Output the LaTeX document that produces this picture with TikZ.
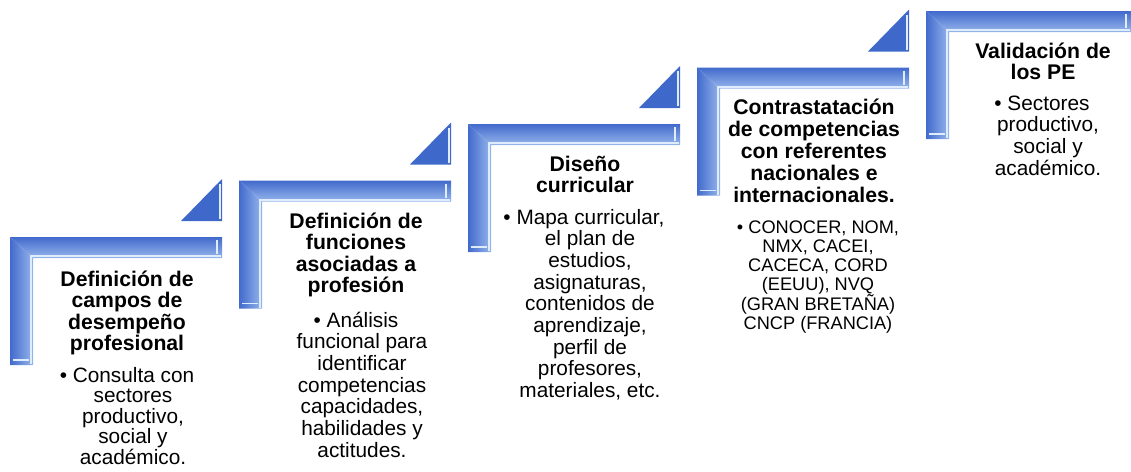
\documentclass[tikz,border=0pt]{standalone}
\usepackage{fontspec}
\setmainfont{Liberation Sans}
\usetikzlibrary{positioning}

\definecolor{barblue}{RGB}{66,106,204}
\definecolor{barpale}{RGB}{150,182,236}
\definecolor{barhi}{RGB}{222,236,252}
\definecolor{triblue}{RGB}{62,104,202}

\newcommand{\topstrut}{\rule{0pt}{20pt}}
\newcommand{\hang}{\hspace*{-12pt}}
% L-shaped frame: left x, top y, right end x
\newcommand{\stepbar}[3]{%
  \shade[top color=barblue, bottom color=barpale] (#1,#2) -- (#3,#2) -- (#3,{#2+21}) -- ({#1+23},{#2+21}) -- cycle;
  \shade[left color=barblue, right color=barpale] (#1,#2) -- ({#1+23},{#2+21}) -- ({#1+23},{#2+128}) -- (#1,{#2+128}) -- cycle;
  \draw[barhi, line width=2pt] ({#3-1},{#2+19}) -- ({#1+21},{#2+19}) -- ({#1+21},{#2+127});
  \draw[barhi, line width=1.2pt] ({#3-5},{#2+3}) -- ({#3-5},{#2+17});
  \draw[barhi, line width=1.2pt] ({#1+3},{#2+123}) -- ({#1+19},{#2+123});
}
% corner triangle: right x, top y of the frame below it
\newcommand{\steparrow}[2]{%
  \fill[triblue] ({#1-41},{#2-16}) -- (#1,{#2-16}) -- (#1,{#2-58}) -- cycle;
  \draw[barhi, line width=2pt] ({#1-2},{#2-18}) -- ({#1-2},{#2-53});
}

\begin{document}
\begin{tikzpicture}[x=1pt, y=-1pt,
  steptitle/.style={font=\fontsize{21.2}{21.6}\selectfont\bfseries, align=center, anchor=north, inner sep=0pt, outer sep=0pt},
  stepbody/.style={font=\fontsize{20.8}{21.7}\selectfont, align=center, anchor=north, inner sep=0pt, outer sep=0pt}]
\useasboundingbox (0,0) rectangle (1131,471);

% frames
\stepbar{10}{237}{222}
\stepbar{239}{180.5}{451}
\stepbar{468}{124}{680}
\stepbar{697}{67.5}{909}
\stepbar{926}{11}{1131}

% triangles
\steparrow{222}{237}
\steparrow{451}{180.5}
\steparrow{680}{124}
\steparrow{909}{67.5}

% step 1
\node[steptitle] (t1) at (127,266) {\topstrut Definición de\\campos de\\desempeño\\profesional};
\node[stepbody, font=\fontsize{20.8}{20.5}\selectfont] (b1) at (133,362)
  {\hang\topstrut\textbullet\ Consulta con\\sectores\\productivo,\\social y\\académico.};

% step 2
\node[steptitle] (t2) at (356,208) {\topstrut Definición de\\funciones\\asociadas a\\profesión};
\node[stepbody] (b2) at (362,307)
  {\hang\topstrut\textbullet\ Análisis\\funcional para\\identificar\\competencias\\capacidades,\\habilidades y\\actitudes.};

% step 3
\node[steptitle] (t3) at (585,151) {\topstrut Diseño\\curricular};
\node[stepbody] (b3) at (590,204)
  {\hang\topstrut\textbullet\ Mapa curricular,\\el plan de\\estudios,\\asignaturas,\\contenidos de\\aprendizaje,\\perfil de\\profesores,\\materiales, etc.};

% step 4
\node[steptitle, font=\fontsize{21.2}{22}\selectfont\bfseries] (t4) at (814,94)
  {\topstrut Contrastatación\\de competencias\\con referentes\\nacionales e\\internacionales.};
\node[stepbody, font=\fontsize{18.2}{19}\selectfont] (b4) at (818,213)
  {\topstrut\textbullet\ CONOCER, NOM,\\NMX, CACEI,\\CACECA, CORD\\(EEUU), NVQ\\(GRAN BRETAÑA)\\CNCP (FRANCIA)};

% step 5
\node[steptitle] (t5) at (1043,38) {\topstrut Validación de\\los PE};
\node[stepbody] (b5) at (1048,90)
  {\hang\topstrut\textbullet\ Sectores\\productivo,\\social y\\académico.};
\end{tikzpicture}
\end{document}
